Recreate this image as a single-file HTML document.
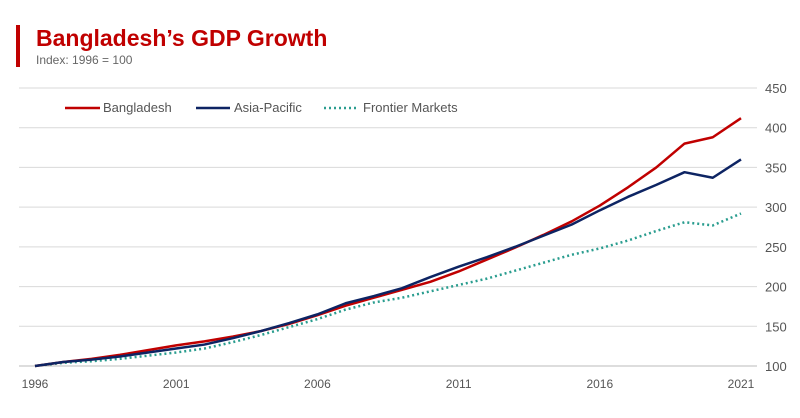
<!DOCTYPE html>
<html><head><meta charset="utf-8"><style>
body{margin:0;background:#fff;font-family:"Liberation Sans",sans-serif;}
svg{display:block}
</style></head><body>
<svg width="800" height="418">
<rect x="16" y="25" width="4" height="42" fill="#c00000"/>
<text x="36" y="46" font-size="23" font-weight="bold" fill="#c00000">Bangladesh’s GDP Growth</text>
<text x="36" y="64" font-size="12" fill="#666">Index: 1996 = 100</text>
<g id="grid"></g>
<g id="legend" font-size="13" fill="#555">
<line x1="65" y1="108" x2="100" y2="108" stroke="#c00000" stroke-width="2.5"/>
<text x="103" y="112">Bangladesh</text>
<line x1="196" y1="108" x2="230" y2="108" stroke="#0d2463" stroke-width="2.5"/>
<text x="234" y="112">Asia-Pacific</text>
<line x1="324" y1="108" x2="358" y2="108" stroke="#2a9d8f" stroke-width="2.5" stroke-dasharray="2 3"/>
<text x="363" y="112">Frontier Markets</text>
</g>
<g id="series"></g>
<g id="xlabels" font-size="12" fill="#555" text-anchor="middle"></g>
</svg>
<script>
const years=[1996,1997,1998,1999,2000,2001,2002,2003,2004,2005,2006,2007,2008,2009,2010,2011,2012,2013,2014,2015,2016,2017,2018,2019,2020,2021];
const bangladesh=[100,105,109,114,120,126,131,137,144,153,164,176,186,196,206,219,234,249,265,282,302,325,350,380,388,412];
const asiaPacific=[100,105,108,112,117,122,127,135,144,154,165,179,188,198,212,225,237,250,264,278,296,313,328,344,337,360];
const frontier=[100,104,106,109,113,117,122,130,139,149,159,171,180,186,194,202,210,220,230,240,248,258,270,281,277,292];
const yTicks=[100,150,200,250,300,350,400,450];
const xTicks=[1996,2001,2006,2011,2016,2021];
const NS="http://www.w3.org/2000/svg";
const X=y=>35+(y-1996)*(741-35)/25;
const Y=v=>366-(v-100)*(366-88)/350;
const grid=document.getElementById('grid');
yTicks.forEach(t=>{
 const l=document.createElementNS(NS,'line');
 l.setAttribute('x1',19);l.setAttribute('x2',757);l.setAttribute('y1',Y(t));l.setAttribute('y2',Y(t));
 l.setAttribute('stroke',t===100?'#bbb':'#d9d9d9');l.setAttribute('stroke-width',1);
 
 
 grid.appendChild(l);
 const tx=document.createElementNS(NS,'text');
 tx.setAttribute('x',765);tx.setAttribute('y',Y(t)+5);tx.setAttribute('font-size',13);tx.setAttribute('fill','#555');
 tx.textContent=t;
 
 
 grid.appendChild(tx);
});
const xl=document.getElementById('xlabels');
xTicks.forEach(t=>{
 const tx=document.createElementNS(NS,'text');
 tx.setAttribute('x',X(t));tx.setAttribute('y',388);tx.textContent=t;
 
 
 xl.appendChild(tx);
});
const sg=document.getElementById('series');
function draw(vals,color,dash,name){
 const p=document.createElementNS(NS,'polyline');
 p.setAttribute('points',vals.map((v,i)=>X(years[i])+','+Y(v)).join(' '));
 p.setAttribute('fill','none');p.setAttribute('stroke',color);p.setAttribute('stroke-width',2.5);
 p.setAttribute('stroke-linejoin','round');
 if(dash)p.setAttribute('stroke-dasharray',dash);
 
 
 sg.appendChild(p);
}
draw(frontier,'#2a9d8f','2 3','frontier-markets-line');
draw(bangladesh,'#c00000',null,'bangladesh-line');
draw(asiaPacific,'#0d2463',null,'asia-pacific-line');
</script>
</body></html>
